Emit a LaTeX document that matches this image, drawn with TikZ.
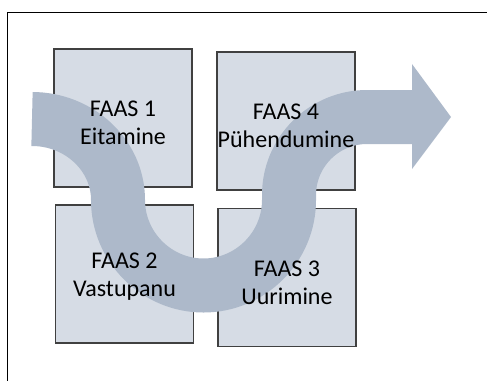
\documentclass[tikz,border=0pt]{standalone}
\usepackage{fontspec}
\setmainfont{Carlito}
\usetikzlibrary{arrows.meta}

\definecolor{boxfill}{HTML}{D6DCE5}
\definecolor{boxline}{HTML}{404040}
\definecolor{flow}{HTML}{ADB9CA}

\begin{document}
\begin{tikzpicture}[x=1pt,y=-1pt]
	\useasboundingbox (0,0) rectangle (487,381);
	\draw[black,line width=1pt] (487,12) -- (7,12) -- (7,381);

	\begin{scope}[every node/.style={rectangle,draw=boxline,line width=1.1pt,fill=boxfill,
		minimum width=138pt,minimum height=138pt,inner sep=0pt}]
		\node (F1) at (123,118) {};
		\node (F2) at (124.5,274) {};
		\node (F3) at (287,277.5) {};
		\node (F4) at (286,121) {};
	\end{scope}

	% the flow through the four phases
	\draw[flow,line width=54pt,line cap=butt]
		(32,119) .. controls (79,119) and (118,155) .. (118,200)
		.. controls (118,247) and (156.5,285.5) .. (203.5,285.5)
		.. controls (250.5,285.5) and (289,247) .. (289,200)
		-- (289,195) .. controls (289,152) and (324,117) .. (367,117) -- (413,117);
	\fill[flow] (412,64) -- (451,117) -- (412,169) -- cycle;

	\begin{scope}[every node/.style={align=center,font=\fontsize{24}{28}\selectfont,inner sep=0pt}]
		\node (T1) at ([yshift=-5pt]F1.center) {FAAS 1\\Eitamine};
		\node (T2) at ([yshift=-3pt]F2.center) {FAAS 2\\Vastupanu};
		\node (T3) at ([yshift=-5pt]F3.center) {FAAS 3\\Uurimine};
		\node (T4) at ([yshift=-5pt]F4.center) {FAAS 4\\Pühendumine};
	\end{scope}
\end{tikzpicture}
\end{document}
